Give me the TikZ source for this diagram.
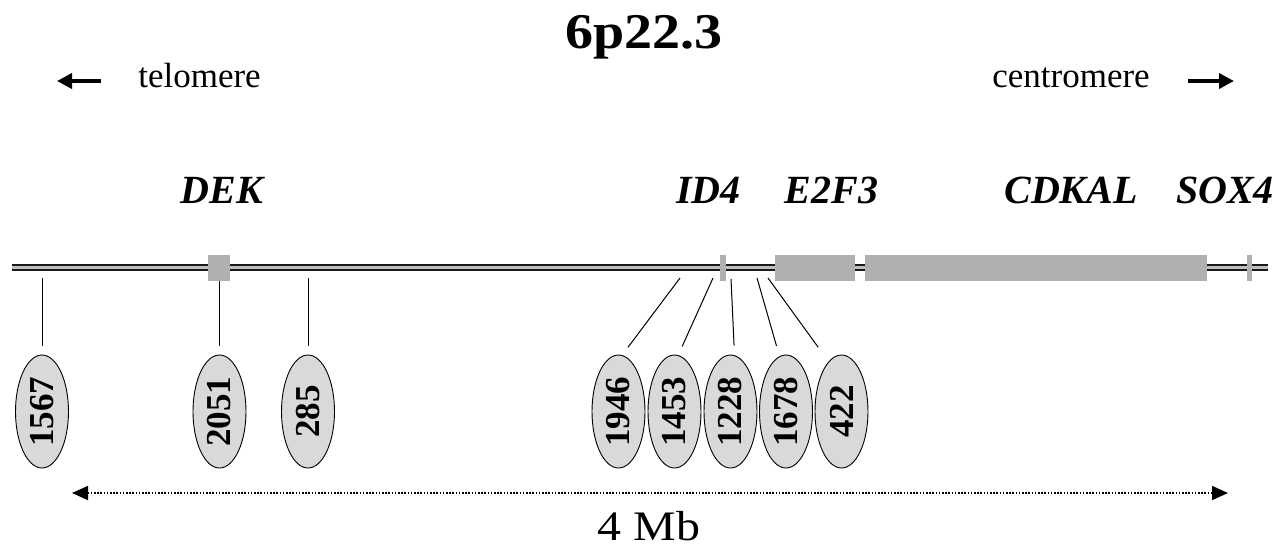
\documentclass[tikz,border=0pt]{standalone}
\usepackage{fontspec}
\setmainfont{Liberation Serif}
\usetikzlibrary{shapes.geometric,arrows.meta}
\definecolor{genegray}{HTML}{B0B0B0}
\definecolor{ovalgray}{HTML}{D9D9D9}
\begin{document}
\begin{tikzpicture}[x=1pt,y=-1pt,
  gene/.style={fill=genegray,draw=none},
  genelabel/.style={anchor=base,font=\fontsize{40}{44}\selectfont\bfseries\itshape,inner sep=0},
  marker/.style={ellipse,draw=black,line width=0.9pt,fill=ovalgray,minimum width=53,minimum height=113,inner sep=0,font=\fontsize{35}{36}\selectfont\bfseries},
  link/.style={draw=black,line width=1pt,shorten >=9pt},
  dirarrow/.style={line width=3.6pt,-{Triangle[length=15pt,width=15pt]}},
  plain/.style={anchor=base,inner sep=0,font=\fontsize{35}{40}\selectfont}]
\useasboundingbox (0,0) rectangle (1288,550);
% title
\node[anchor=base,inner sep=0,font=\fontsize{50}{54}\selectfont\bfseries] (title) at (644,48) {\scalebox{1.12}[1]{6p22.3}};
% telomere / centromere
\node[plain] (telo) at (199.5,87) {telomere};
\node[plain] (centro) at (1071,87) {centromere};
\coordinate (tA) at (101,81);
\coordinate (tB) at (57,81);
\coordinate (cA) at (1188,81);
\coordinate (cB) at (1234,81);
\draw[dirarrow] (tA) -- (tB);
\draw[dirarrow] (cA) -- (cB);
% gene labels
\node[genelabel] (dek) at (222,203) {DEK};
\node[genelabel] (id4) at (708.5,203) {ID4};
\node[genelabel] (e2f3) at (831.5,203) {E2F3};
\node[genelabel] (cdkal) at (1071,203) {CDKAL};
\node[genelabel] (sox4) at (1225,203) {SOX4};
% chromosome
\coordinate (chL) at (12,267.5);
\coordinate (chR) at (1268,267.5);
\draw[line width=6.5pt,black!90] (chL) -- (chR);
\draw[line width=2.2pt,black!25] (chL) -- (chR);
% gene boxes
\fill[gene] (208,255) rectangle (230,281);
\fill[gene] (720,255) rectangle (726,281);
\fill[gene] (775,255) rectangle (855,281);
\fill[gene] (865,255) rectangle (1207,281);
\fill[gene] (1247,255) rectangle (1252,281);
% markers
\node[marker] (m1567) at (42,411.5) {\rotatebox{90}{1567}};
\node[marker] (m2051) at (219.5,411.5) {\rotatebox{90}{2051}};
\node[marker] (m285) at (308,411.5) {\rotatebox{90}{285}};
\node[marker] (m1946) at (618.5,411.5) {\rotatebox{90}{1946}};
\node[marker] (m1453) at (674.5,411.5) {\rotatebox{90}{1453}};
\node[marker] (m1228) at (730.5,411.5) {\rotatebox{90}{1228}};
\node[marker] (m1678) at (786,411.5) {\rotatebox{90}{1678}};
\node[marker] (m422) at (841.5,411.5) {\rotatebox{90}{422}};
% link start points
\coordinate (p1567) at (42,278);
\coordinate (p2051) at (219.5,281);
\coordinate (p285) at (308,278);
\coordinate (p1946) at (680,278);
\coordinate (p1453) at (713,278);
\coordinate (p1228) at (731,279);
\coordinate (p1678) at (757,278);
\coordinate (p422) at (768,278);
\draw[link] (p1567) -- (m1567.north);
\draw[link] (p2051) -- (m2051.north);
\draw[link] (p285) -- (m285.north);
\draw[link] (p1946) -- ([xshift=4pt]m1946.north);
\draw[link] (p1453) -- ([xshift=4pt]m1453.north);
\draw[link] (p1228) -- ([xshift=4pt]m1228.north);
\draw[link] (p1678) -- ([xshift=-7pt]m1678.north);
\draw[link] (p422) -- ([xshift=-18pt]m422.north);
% scale bar
\coordinate (sL) at (72,493);
\coordinate (sR) at (1228,493);
\draw[line width=1.6pt,dash pattern=on 1.6pt off 1.6pt,{Triangle[length=16pt,width=14pt]}-{Triangle[length=16pt,width=14pt]}] (sL) -- (sR);
\node[anchor=base,inner sep=0,font=\fontsize{42}{44}\selectfont] (mb) at (649,540) {\scalebox{1.14}[1]{4 Mb}};
\end{tikzpicture}
\end{document}
